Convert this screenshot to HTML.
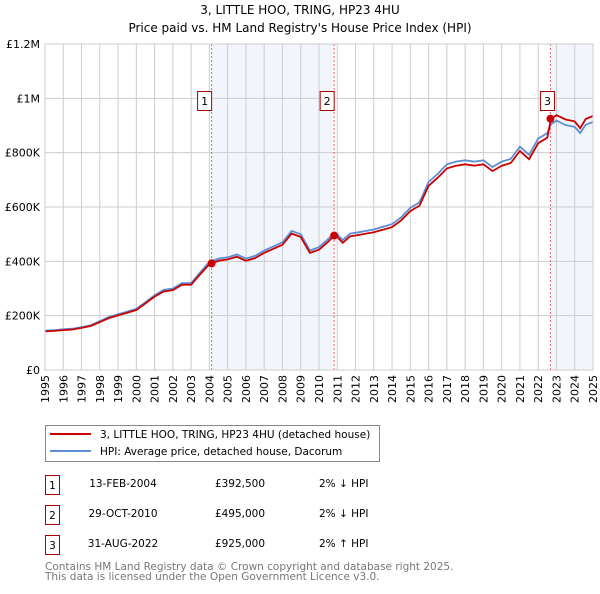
<!DOCTYPE html>
<html><head><meta charset="utf-8"><style>
body{margin:0;background:#fff;font-family:"DejaVu Sans","Liberation Sans",sans-serif;}
svg text{font-family:"DejaVu Sans","Liberation Sans",sans-serif;}
</style></head><body>
<svg id="c" width="600" height="590" xmlns="http://www.w3.org/2000/svg">
<text x="300" y="14" text-anchor="middle" font-size="12" fill="#000">3, LITTLE HOO, TRING, HP23 4HU</text>
<text x="300" y="32" text-anchor="middle" font-size="12" fill="#000">Price paid vs. HM Land Registry's House Price Index (HPI)</text>
<g id="plot"></g>
<g>
<rect x="45.5" y="425.5" width="334" height="36" fill="#fff" stroke="#888"/>
<line x1="50" y1="434" x2="91" y2="434" stroke="#cc0000" stroke-width="2"/>
<text x="100" y="438" font-size="10.5">3, LITTLE HOO, TRING, HP23 4HU (detached house)</text>
<line x1="50" y1="451" x2="91" y2="451" stroke="#5b8fd4" stroke-width="2"/>
<text x="100" y="455" font-size="10.5">HPI: Average price, detached house, Dacorum</text>
</g>
<g font-size="10.5">
<rect x="45.5" y="475.5" width="14" height="19" fill="#fff" stroke="#aa0000"/><text x="52.5" y="489" text-anchor="middle">1</text>
<text x="123" y="487" text-anchor="middle">13-FEB-2004</text><text x="240" y="487" text-anchor="middle">£392,500</text><text x="319" y="487">2% ↓ HPI</text>
<rect x="45.5" y="505.5" width="14" height="19" fill="#fff" stroke="#aa0000"/><text x="52.5" y="519" text-anchor="middle">2</text>
<text x="123" y="517" text-anchor="middle">29-OCT-2010</text><text x="240" y="517" text-anchor="middle">£495,000</text><text x="319" y="517">2% ↓ HPI</text>
<rect x="45.5" y="535.5" width="14" height="19" fill="#fff" stroke="#aa0000"/><text x="52.5" y="549" text-anchor="middle">3</text>
<text x="123" y="547" text-anchor="middle">31-AUG-2022</text><text x="240" y="547" text-anchor="middle">£925,000</text><text x="319" y="547">2% ↑ HPI</text>
</g>
<text x="45" y="570" font-size="10.5" fill="#777">Contains HM Land Registry data © Crown copyright and database right 2025.</text>
<text x="45" y="580" font-size="10.5" fill="#777">This data is licensed under the Open Government Licence v3.0.</text>
</svg>
<script>
const years=[1995,1995.5,1996,1996.5,1997,1997.5,1998,1998.5,1999,1999.5,2000,2000.5,2001,2001.5,2002,2002.5,2003,2003.5,2004,2004.5,2005,2005.5,2006,2006.5,2007,2007.5,2008,2008.5,2009,2009.5,2010,2010.5,2010.83,2011,2011.3,2011.7,2012,2013,2014,2014.5,2015,2015.5,2016,2016.5,2017,2017.5,2018,2018.5,2019,2019.5,2020,2020.5,2021,2021.5,2022,2022.5,2022.7,2023,2023.5,2024,2024.3,2024.6,2025];
const hpi=[145,147,150,152,158,165,180,195,205,215,225,250,275,295,300,320,320,360,398,410,415,425,410,420,440,455,470,512,500,440,452,482,505,500,478,502,505,517,537,562,597,617,692,722,757,767,772,767,772,747,767,777,822,792,852,872,905,918,902,895,872,903,913];
const price=[142,144,147,149,155,162,176,191,201,211,221,245,270,289,294,314,314,353,390,402,407,417,402,412,431,446,461,502,490,431,443,472,495,490,468,492,495,507,526,551,585,605,678,708,742,752,757,752,757,732,752,762,806,776,835,855,925,938,922,915,890,924,935];
const yTicks=[0,200,400,600,800,1000,1200];
const yLabels=["£0","£200K","£400K","£600K","£800K","£1M","£1.2M"];
const saleYears=[2004.12,2010.83,2022.67];
const saleValues=[392.5,495,925];
const X0=45,X1=593,Y0=370,Y1=44;
const xs=y=>X0+(y-1995)/30*(X1-X0);
const ys=v=>Y0-v/1200*(Y0-Y1);
const NS="http://www.w3.org/2000/svg",g=document.getElementById('plot');
function mk(t,a){const e=document.createElementNS(NS,t);for(const k in a)e.setAttribute(k,a[k]);g.appendChild(e);return e;}
let e;
e=mk('rect',{x:xs(saleYears[0]),y:Y1,width:xs(saleYears[1])-xs(saleYears[0]),height:Y0-Y1,fill:'#eef2fb',opacity:0.75});


e=mk('rect',{x:xs(saleYears[2]),y:Y1,width:X1-xs(saleYears[2]),height:Y0-Y1,fill:'#eef2fb',opacity:0.75});


for(let yr=1995;yr<=2025;yr++){
 e=mk('line',{x1:xs(yr),x2:xs(yr),y1:Y1,y2:Y0,stroke:'#ccc','stroke-width':1});
 
 
 e=mk('text',{x:0,y:0,'font-size':11,'text-anchor':'end',transform:`translate(${xs(yr)+4},${Y0+5}) rotate(-90)`});
 e.textContent=yr;
 
 
}
yTicks.forEach((v,i)=>{
 e=mk('line',{x1:X0,x2:X1,y1:ys(v),y2:ys(v),stroke:'#ccc','stroke-width':1});
 
 
 e=mk('text',{x:X0-5,y:ys(v)+4,'font-size':11,'text-anchor':'end'});
 e.textContent=yLabels[i];
 
 
});
saleYears.forEach((s,i)=>{
 e=mk('line',{x1:xs(s),x2:xs(s),y1:Y1,y2:Y0,stroke:'#e06666','stroke-dasharray':'2,2','stroke-width':1});
 
 
});
const pts=a=>a.map((v,i)=>xs(years[i]).toFixed(1)+','+ys(v).toFixed(1)).join(' ');
e=mk('polyline',{points:pts(hpi),fill:'none',stroke:'#5b8fd4','stroke-width':1.8});


e=mk('polyline',{points:pts(price),fill:'none',stroke:'#cc0000','stroke-width':1.8});


saleYears.forEach((s,i)=>{
 e=mk('circle',{cx:xs(s),cy:ys(saleValues[i]),r:4,fill:'#cc0000'});
 
 
 const bx=xs(s)-(i==2?3:7);
 e=mk('rect',{x:bx-7,y:91.5,width:14,height:19,fill:'#fff',stroke:'#aa0000'});
 
 
 e=mk('text',{x:bx,y:105,'font-size':11,'text-anchor':'middle'});
 e.textContent=String(i+1);
 
 
});
e=mk('rect',{x:X0,y:Y1,width:X1-X0,height:Y0-Y1,fill:'none',stroke:'#ccc'});


</script>
</body></html>
